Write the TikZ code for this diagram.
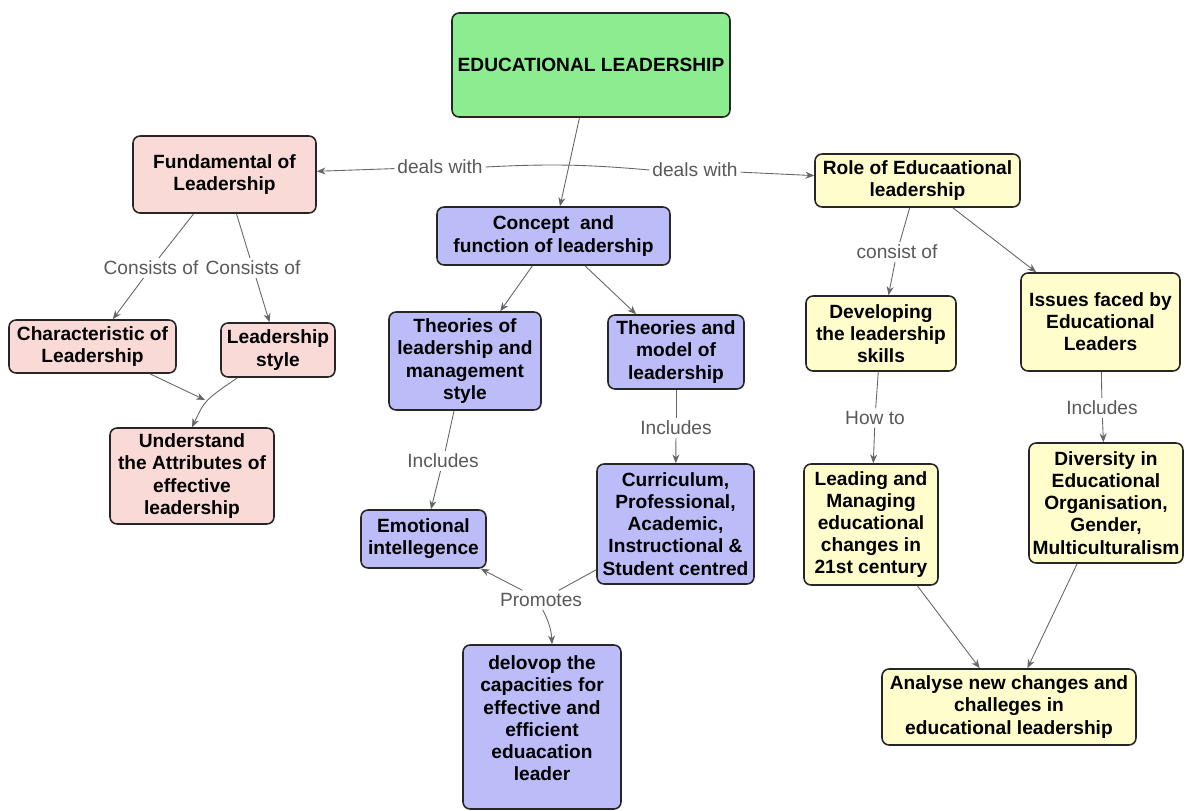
\documentclass[tikz,border=0pt]{standalone}
\usepackage{fontspec}
\setmainfont{Liberation Sans}
\usetikzlibrary{arrows.meta}

\definecolor{rootgreen}{HTML}{8CEC90}
\definecolor{fundpink}{HTML}{FADAD6}
\definecolor{conclav}{HTML}{BCBCF8}
\definecolor{roleyellow}{HTML}{FEFDCB}

\tikzset{
  cbox/.style={draw=black!85, line width=0.9pt, rounded corners=4pt, align=center,
    inner sep=2pt, font=\fontsize{10.9}{12.6}\selectfont\bfseries},
  rootbox/.style={cbox, fill=rootgreen},
  pinkbox/.style={cbox, fill=fundpink},
  lavbox/.style={cbox, fill=conclav},
  yelbox/.style={cbox, fill=roleyellow},
  linkword/.style={text=black!65, inner sep=1.5pt, font=\fontsize{10.9}{12.6}\selectfont},
  link/.style={draw=black!60, line width=0.5pt},
  >={Stealth[length=5pt,width=4pt]}
}

\begin{document}
\begin{tikzpicture}[x=0.02cm, y=-0.02cm]

  \useasboundingbox[fill=white] (0,0) rectangle (1190,811);

  % Concepts
  \node[rootbox, minimum width=5.56cm, minimum height=2.08cm] (edu) at (591,65) {EDUCATIONAL LEADERSHIP};

  \node[pinkbox, minimum width=3.66cm, minimum height=1.54cm] (fund) at (224.5,174.5) {Fundamental of\\Leadership};
  \node[pinkbox, minimum width=3.34cm, minimum height=1.06cm] (char) at (92.5,346.5) {Characteristic of\\Leadership};
  \node[pinkbox, minimum width=2.28cm, minimum height=1.08cm] (lstyle) at (278,350) {Leadership\\style};
  \node[pinkbox, minimum width=3.28cm, minimum height=1.92cm] (underst) at (192,476) {Understand\\the Attributes of\\effective\\leadership};

  \node[lavbox, minimum width=4.66cm, minimum height=1.16cm] (concept) at (553.5,236) {Concept~ and\\function of leadership};
  \node[lavbox, minimum width=3.04cm, minimum height=1.96cm] (theolm) at (465,361) {Theories of\\leadership and\\management\\style};
  \node[lavbox, minimum width=2.72cm, minimum height=1.48cm] (theomod) at (676,352) {Theories and\\model of\\leadership};
  \node[lavbox, minimum width=2.5cm, minimum height=1.16cm] (emot) at (423.5,539) {Emotional\\intellegence};
  \node[lavbox, minimum width=3.14cm, minimum height=2.4cm] (curric) at (675.5,524) {Curriculum,\\Professional,\\Academic,\\Instructional \&\\Student centred};
  \node[lavbox, minimum width=3.16cm, minimum height=3.28cm] (delov) at (542,727) {delovop the\\capacities for\\effective and\\efficient\\eduacation\\leader\\[-2.6pt]};

  \node[yelbox, minimum width=4.1cm, minimum height=1.06cm] (role) at (917.5,180.5) {Role of Educaational\\leadership};
  \node[yelbox, minimum width=3.0cm, minimum height=1.5cm] (devel) at (881,333.5) {Developing\\the leadership\\skills};
  \node[yelbox, minimum width=3.18cm, minimum height=1.96cm] (issues) at (1100.5,322) {Issues faced by\\Educational\\Leaders};
  \node[yelbox, minimum width=2.68cm, minimum height=2.42cm] (leading) at (871,524.5) {Leading and\\Managing\\educational\\changes in\\21st century};
  \node[yelbox, minimum width=3.08cm, minimum height=2.4cm] (divers) at (1106,503) {Diversity in\\Educational\\Organisation,\\Gender,\\Multiculturalism};
  \node[yelbox, minimum width=5.08cm, minimum height=1.52cm] (analyse) at (1009,707) {Analyse new changes and\\challeges in\\educational leadership};

  % Linking words
  \node[linkword] (dw1) at (440,167) {deals with};
  \node[linkword] (dw2) at (695,170) {deals with};
  \node[linkword] (cons1) at (151,268) {Consists of};
  \node[linkword] (cons2) at (253,268) {Consists of};
  \node[linkword] (incl1) at (443,461) {Includes};
  \node[linkword] (incl2) at (676,428) {Includes};
  \node[linkword] (promotes) at (541,600) {Promotes};
  \node[linkword] (consof) at (897,252) {consist of};
  \node[linkword] (howto) at (875,418) {How to};
  \node[linkword] (incl3) at (1102,408) {Includes};

  \coordinate (mrg) at (205,400);

  % Connectors
  \draw[link, ->] (edu) -- (concept);
  \draw[link, ->] (dw1) -- (fund);
  \draw[link] (dw1.east) to[bend left=4] (dw2.west);
  \draw[link, ->] (dw2) -- (role);

  \draw[link] (fund) -- (cons1);
  \draw[link, ->] (cons1) -- (char);
  \draw[link] (fund) -- (cons2);
  \draw[link, ->] (cons2) -- (lstyle);
  \draw[link, ->] (char) -- (mrg);
  \draw[link, ->] (lstyle) .. controls (mrg) .. (underst.north);

  \draw[link, ->] (concept) -- (theolm);
  \draw[link, ->] (concept) -- (theomod);
  \draw[link] (theolm) -- (incl1);
  \draw[link, ->] (incl1) -- (emot);
  \draw[link] (theomod) -- (incl2);
  \draw[link, ->] (incl2) -- (curric);
  \draw[link] (curric.210) -- (promotes);
  \draw[link, ->] (promotes) -- (emot);
  \draw[link, ->] (promotes.-80) to[bend left=12] ([xshift=0.2cm]delov.north);

  \draw[link] (role) -- (consof);
  \draw[link, ->] (consof) -- (devel);
  \draw[link, ->] (role) -- (issues);
  \draw[link] (devel) -- (howto);
  \draw[link, ->] (howto) -- (leading);
  \draw[link] (issues) -- (incl3);
  \draw[link, ->] (incl3) -- (divers);
  \draw[link, ->] (leading) -- (analyse);
  \draw[link, ->] (divers) -- (analyse);

\end{tikzpicture}
\end{document}
